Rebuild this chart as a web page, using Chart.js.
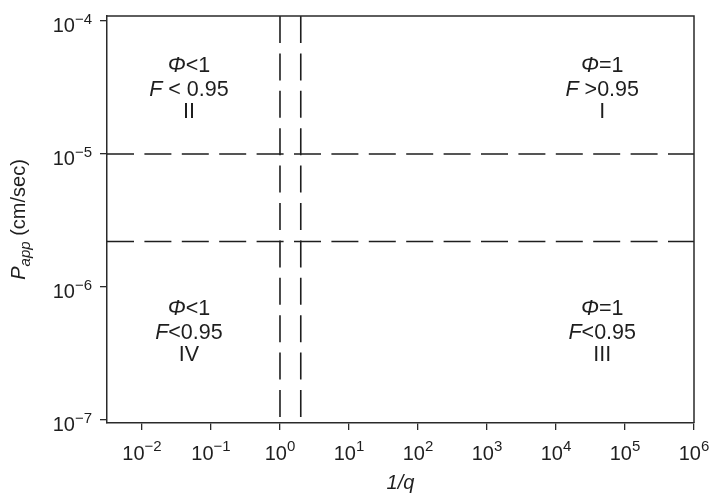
<!DOCTYPE html>
<html lang="en">
<head>
  <meta charset="UTF-8">
  <title>Papp vs 1/q</title>
  <script src="https://cdn.jsdelivr.net/npm/chart.js"></script>
  <style>
    body {
      margin: 0;
      background: #fff;
    }
    canvas {
      display: block;
    }
  </style>
</head>
<body>
  <canvas id="chart" width="713" height="494"></canvas>

  <script>
    // axis ranges and decade ticks
    const xRange = [Math.pow(10, -2.507), 1e6];
    const yRange = [Math.pow(10, -7.023), Math.pow(10, -3.962)];
    const xTicks = [1e-2, 1e-1, 1e0, 1e1, 1e2, 1e3, 1e4, 1e5, 1e6];
    const yTicks = [1e-7, 1e-6, 1e-5, 1e-4];

    // dashed boundaries
    const hLines = [1e-5, 2.2e-6];
    const vLines = [1, 2];

    // region labels (anchor = baseline of middle line)
    const regionName = ['I', 'II', 'III', 'IV'];
    const regionPhi = ['=1', '<1', '=1', '<1'];
    const regionF = [' >0.95', ' < 0.95', '<0.95', '<0.95'];
    const regionX = [Math.pow(10, 4.67), Math.pow(10, -1.32), Math.pow(10, 4.67), Math.pow(10, -1.32)];
    const regionY = [2.73e-5, 2.73e-5, 4.06e-7, 4.06e-7];

    const ink = '#1e1e1e';
    const family = '"Liberation Sans", Arial, sans-serif';

    const dashed = {
      showLine: true,
      borderColor: ink,
      borderWidth: 1.6,
      borderDash: [27, 10.4],
      pointRadius: 0,
      fill: false
    };

    const datasets = [
      ...hLines.map(v => ({ ...dashed, data: [{ x: xRange[0], y: v }, { x: xRange[1], y: v }] })),
      ...vLines.map(v => ({ ...dashed, data: [{ x: v, y: yRange[1] }, { x: v, y: yRange[0] }] }))
    ];

    function font(size, italic) {
      return (italic ? 'italic ' : '') + size + 'px ' + family;
    }

    // draw a list of text runs centred on cx
    function drawRuns(ctx, runs, cx, y) {
      let w = 0;
      runs.forEach(r => { ctx.font = font(r.size, r.it); w += ctx.measureText(r.t).width; });
      let x = cx - w / 2;
      runs.forEach(r => {
        ctx.font = font(r.size, r.it);
        ctx.fillText(r.t, x, y + (r.dy || 0));
        x += ctx.measureText(r.t).width;
      });
    }

    function expText(v) {
      const e = Math.round(Math.log10(v));
      return e < 0 ? '\u2212' + (-e) : String(e);
    }

    const textPlugin = {
      id: 'texts',
      afterDraw(chart) {
        const ctx = chart.ctx;
        const a = chart.chartArea;
        const xs = chart.scales.x, ys = chart.scales.y;
        ctx.save();

        // top and right frame
        ctx.strokeStyle = '#2a2a2a';
        ctx.lineWidth = 1.5;
        ctx.beginPath();
        ctx.moveTo(a.left, a.top);
        ctx.lineTo(a.right, a.top);
        ctx.lineTo(a.right, a.bottom);
        ctx.stroke();

        ctx.fillStyle = ink;
        ctx.textAlign = 'left';
        ctx.textBaseline = 'alphabetic';

        // y tick labels
        yTicks.forEach(v => {
          const py = ys.getPixelForValue(v);
          const sup = expText(v);
          ctx.font = font(15);
          const sw = ctx.measureText(sup).width;
          ctx.fillText(sup, 92 - sw, py + 3);
          ctx.font = font(20);
          const bw = ctx.measureText('10').width;
          ctx.fillText('10', 92 - sw - bw, py + 11);
        });

        // x tick labels
        xTicks.forEach(v => {
          const px = xs.getPixelForValue(v);
          drawRuns(ctx, [
            { t: '10', size: 20 },
            { t: expText(v), size: 15, dy: -9 }
          ], px, a.bottom + 37);
        });

        // x title
        drawRuns(ctx, [{ t: '1/q', size: 20, it: true }], (a.left + a.right) / 2, 489);

        // y title
        ctx.save();
        ctx.translate(25, (a.top + a.bottom) / 2);
        ctx.rotate(-Math.PI / 2);
        drawRuns(ctx, [
          { t: 'P', size: 20, it: true },
          { t: 'app', size: 15, it: true, dy: 5 },
          { t: ' (cm/sec)', size: 20 }
        ], 0, 0);
        ctx.restore();

        // region labels
        regionName.forEach((name, i) => {
          const cx = xs.getPixelForValue(regionX[i]);
          const cy = ys.getPixelForValue(regionY[i]);
          drawRuns(ctx, [{ t: '\u03A6', size: 21.5, it: true }, { t: regionPhi[i], size: 21.5 }], cx, cy - 24);
          drawRuns(ctx, [{ t: 'F', size: 21.5, it: true }, { t: regionF[i], size: 21.5 }], cx, cy);
          drawRuns(ctx, [{ t: name, size: 21.5 }], cx, cy + 22);
        });

        ctx.restore();
      }
    };

    const axisGrid = {
      display: true,
      drawOnChartArea: false,
      drawTicks: true,
      tickLength: 7,
      color: '#2a2a2a',
      lineWidth: 1.3
    };

    new Chart(document.getElementById('chart').getContext('2d'), {
      type: 'scatter',
      data: { datasets },
      options: {
        responsive: false,
        animation: false,
        layout: { padding: { top: 16, right: 19, left: 0, bottom: 0 } },
        plugins: {
          legend: { display: false },
          tooltip: { enabled: false }
        },
        scales: {
          x: {
            type: 'logarithmic',
            position: 'bottom',
            min: xRange[0],
            max: xRange[1],
            afterBuildTicks: s => { s.ticks = xTicks.map(v => ({ value: v })); },
            afterFit: s => { s.height = 71; },
            ticks: { display: false },
            grid: axisGrid,
            border: { display: true, color: '#2a2a2a', width: 1.5 }
          },
          y: {
            type: 'logarithmic',
            position: 'left',
            min: yRange[0],
            max: yRange[1],
            afterBuildTicks: s => { s.ticks = yTicks.map(v => ({ value: v })); },
            afterFit: s => { s.width = 107; },
            ticks: { display: false },
            grid: axisGrid,
            border: { display: true, color: '#2a2a2a', width: 1.5 }
          }
        }
      },
      plugins: [textPlugin]
    });
  </script>
</body>
</html>
